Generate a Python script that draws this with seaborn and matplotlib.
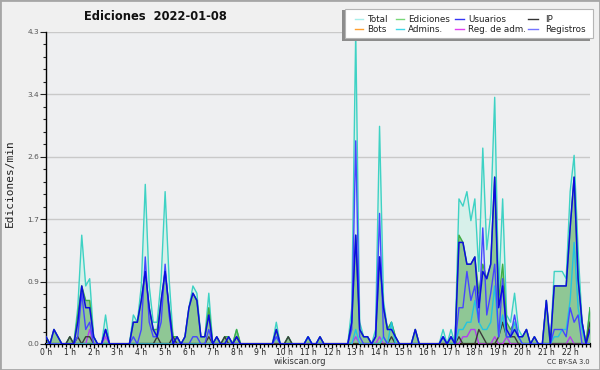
import matplotlib
matplotlib.use("Agg")
import numpy as np
import pandas as pd
import seaborn as sns
import matplotlib.pyplot as plt
from matplotlib.lines import Line2D
from matplotlib.patches import Rectangle
from matplotlib.ticker import FixedLocator, MultipleLocator

title = "Ediciones  2022-01-08"
ylabel = "Ediciones/min"
hour_labels = [f"{h} h" for h in range(23)]
y_ticks = [0.0, 0.86, 1.72, 2.58, 3.44, 4.3]
y_tick_labels = ["0.0", "0.9", "1.7", "2.6", "3.4", "4.3"]
series_names = ["Total", "Ediciones", "Usuarios", "IP",
                "Bots", "Admins.", "Reg. de adm.", "Registros"]

# 10-minute slots, one row per hour (values in edits/min)
slot_minutes = list(range(0, 1380, 10))

total = [
    0.1, 0, 0.2, 0.1, 0, 0,
    0.1, 0, 0.5, 1.5, 0.8, 0.9,
    0.1, 0, 0, 0.4, 0, 0,
    0, 0, 0, 0, 0.4, 0.3,
    0.8, 2.2, 0.8, 0.3, 0.3, 0.9,
    2.1, 0.9, 0.1, 0.1, 0, 0.1,
    0.5, 0.8, 0.7, 0.1, 0.1, 0.7,
    0, 0.1, 0, 0.1, 0.1, 0,
    0.2, 0, 0, 0, 0, 0,
    0, 0, 0, 0, 0.3, 0,
    0, 0.1, 0, 0, 0, 0,
    0.1, 0, 0, 0.1, 0, 0,
    0, 0, 0, 0, 0, 0.5,
    4.3, 0.3, 0.1, 0.1, 0, 0.2,
    3.0, 0.6, 0.2, 0.3, 0.1, 0,
    0, 0, 0, 0.2, 0, 0,
    0, 0, 0, 0, 0.2, 0,
    0.2, 0, 2.0, 1.9, 2.1, 1.7,
    2.0, 1.0, 2.7, 1.3, 1.8, 3.4,
    0.7, 2.0, 0.4, 0.3, 0.7, 0.2,
    0.1, 0.2, 0, 0.1, 0, 0,
    0.6, 0, 1.0, 1.0, 1.0, 0.9,
    2.1, 2.6, 1.3, 0.3, 0, 0.5,
]
ediciones = [
    0.1, 0, 0.2, 0.1, 0, 0,
    0.1, 0, 0.4, 0.8, 0.6, 0.6,
    0.1, 0, 0, 0.2, 0, 0,
    0, 0, 0, 0, 0.3, 0.3,
    0.6, 1.0, 0.5, 0.2, 0.2, 0.6,
    1.0, 0.5, 0.1, 0.1, 0, 0.1,
    0.5, 0.7, 0.6, 0.1, 0.1, 0.5,
    0, 0.1, 0, 0.1, 0.1, 0,
    0.2, 0, 0, 0, 0, 0,
    0, 0, 0, 0, 0.2, 0,
    0, 0.1, 0, 0, 0, 0,
    0.1, 0, 0, 0.1, 0, 0,
    0, 0, 0, 0, 0, 0.3,
    1.5, 0.2, 0.1, 0.1, 0, 0.1,
    1.2, 0.5, 0.2, 0.3, 0.1, 0,
    0, 0, 0, 0.2, 0, 0,
    0, 0, 0, 0, 0.1, 0,
    0.1, 0, 1.5, 1.4, 1.1, 1.1,
    1.2, 0.7, 1.1, 0.9, 1.1, 2.3,
    0.6, 1.1, 0.3, 0.2, 0.3, 0.1,
    0.1, 0.2, 0, 0.1, 0, 0,
    0.6, 0, 0.8, 0.8, 0.8, 0.8,
    1.6, 2.3, 0.9, 0.3, 0, 0.5,
]
usuarios = [
    0.1, 0, 0.2, 0.1, 0, 0,
    0, 0, 0.3, 0.8, 0.5, 0.5,
    0.1, 0, 0, 0.2, 0, 0,
    0, 0, 0, 0, 0.3, 0.3,
    0.6, 1.0, 0.5, 0.2, 0.1, 0.6,
    1.0, 0.5, 0, 0.1, 0, 0.1,
    0.5, 0.7, 0.6, 0.1, 0.1, 0.4,
    0, 0.1, 0, 0, 0.1, 0,
    0.1, 0, 0, 0, 0, 0,
    0, 0, 0, 0, 0.2, 0,
    0, 0, 0, 0, 0, 0,
    0.1, 0, 0, 0.1, 0, 0,
    0, 0, 0, 0, 0, 0.3,
    1.5, 0.2, 0.1, 0.1, 0, 0.1,
    1.2, 0.5, 0.2, 0.2, 0.1, 0,
    0, 0, 0, 0.2, 0, 0,
    0, 0, 0, 0, 0.1, 0,
    0.1, 0, 1.4, 1.4, 1.1, 1.1,
    1.2, 0.5, 1.0, 0.9, 1.1, 2.3,
    0.5, 0.8, 0.2, 0.1, 0.2, 0.1,
    0.1, 0.2, 0, 0.1, 0, 0,
    0.6, 0, 0.8, 0.8, 0.8, 0.8,
    1.6, 2.3, 0.9, 0.3, 0, 0.2,
]
ip = [
    0, 0, 0, 0, 0, 0,
    0.1, 0, 0.1, 0, 0.1, 0.1,
    0, 0, 0, 0, 0, 0,
    0, 0, 0, 0, 0, 0,
    0, 0, 0, 0, 0.1, 0,
    0, 0, 0.1, 0, 0, 0,
    0, 0, 0, 0, 0, 0.1,
    0, 0, 0, 0.1, 0, 0,
    0.1, 0, 0, 0, 0, 0,
    0, 0, 0, 0, 0, 0,
    0, 0.1, 0, 0, 0, 0,
    0, 0, 0, 0, 0, 0,
    0, 0, 0, 0, 0, 0,
    0, 0, 0, 0, 0, 0,
    0, 0, 0, 0.1, 0, 0,
    0, 0, 0, 0, 0, 0,
    0, 0, 0, 0, 0, 0,
    0, 0, 0.1, 0, 0, 0,
    0, 0.2, 0.1, 0, 0, 0,
    0.1, 0.3, 0.1, 0.1, 0.1, 0,
    0, 0, 0, 0, 0, 0,
    0, 0, 0, 0, 0, 0,
    0, 0, 0, 0, 0, 0.3,
]
bots = [0] * 138
admins = [
    0, 0, 0, 0, 0, 0,
    0, 0, 0, 0, 0, 0,
    0, 0, 0, 0, 0, 0,
    0, 0, 0, 0, 0, 0,
    0, 0, 0, 0, 0, 0,
    0, 0, 0, 0, 0, 0,
    0, 0, 0, 0, 0, 0,
    0, 0, 0, 0, 0, 0,
    0, 0, 0, 0, 0, 0,
    0, 0, 0, 0, 0.1, 0,
    0, 0, 0, 0, 0, 0,
    0.1, 0, 0, 0, 0, 0,
    0, 0, 0, 0, 0, 0,
    0.2, 0, 0, 0, 0, 0,
    0, 0.1, 0, 0.3, 0, 0,
    0, 0, 0, 0, 0, 0,
    0, 0, 0, 0, 0.1, 0,
    0, 0, 0.2, 0.2, 0.3, 0.3,
    0.6, 0.3, 0.2, 0.2, 0.3, 0.8,
    0.1, 0.4, 0.1, 0.1, 0.3, 0.1,
    0, 0, 0, 0, 0, 0,
    0, 0, 0.1, 0.1, 0.2, 0.2,
    0.6, 1.4, 0.5, 0.2, 0, 0,
]
reg_adm = [
    0, 0, 0, 0, 0, 0,
    0, 0, 0, 0, 0, 0.2,
    0, 0, 0, 0.1, 0, 0,
    0, 0, 0, 0, 0, 0,
    0, 0, 0, 0, 0, 0,
    0, 0, 0, 0, 0, 0,
    0, 0, 0, 0, 0, 0,
    0, 0, 0, 0, 0, 0,
    0, 0, 0, 0, 0, 0,
    0, 0, 0, 0, 0, 0,
    0, 0, 0, 0, 0, 0,
    0, 0, 0, 0, 0, 0,
    0, 0, 0, 0, 0, 0,
    0.1, 0, 0, 0, 0, 0,
    0.1, 0, 0, 0, 0, 0,
    0, 0, 0, 0, 0, 0,
    0, 0, 0, 0, 0, 0,
    0, 0, 0, 0.1, 0.1, 0.2,
    0.2, 0, 0, 0, 0, 0.1,
    0, 0, 0.1, 0, 0, 0,
    0, 0, 0, 0, 0, 0,
    0, 0, 0, 0, 0, 0,
    0.1, 0, 0, 0, 0, 0,
]
registros = [
    0, 0, 0, 0, 0, 0,
    0, 0, 0.1, 0.7, 0.2, 0.3,
    0, 0, 0, 0.2, 0, 0,
    0, 0, 0, 0, 0.1, 0,
    0.2, 1.2, 0.3, 0.1, 0.1, 0.3,
    1.1, 0.4, 0, 0, 0, 0,
    0, 0.1, 0.1, 0, 0, 0.2,
    0, 0, 0, 0, 0, 0,
    0, 0, 0, 0, 0, 0,
    0, 0, 0, 0, 0.1, 0,
    0, 0, 0, 0, 0, 0,
    0, 0, 0, 0, 0, 0,
    0, 0, 0, 0, 0, 0.2,
    2.8, 0.1, 0, 0, 0, 0.1,
    1.8, 0.1, 0, 0, 0, 0,
    0, 0, 0, 0, 0, 0,
    0, 0, 0, 0, 0.1, 0,
    0.1, 0, 0.5, 0.5, 1.0, 0.6,
    0.8, 0.3, 1.6, 0.4, 0.7, 1.1,
    0.1, 0.9, 0.1, 0.1, 0.4, 0.1,
    0, 0, 0, 0, 0, 0,
    0, 0, 0.2, 0.2, 0.2, 0.1,
    0.5, 0.3, 0.4, 0, 0, 0,
]

colors = {
    "Total": "#3ed2c4", "Ediciones": "#3fae45", "Usuarios": "#0c0ce0",
    "IP": "#3a3a3a", "Bots": "#ff9a1e", "Admins.": "#22c4e0",
    "Reg. de adm.": "#b43cf0", "Registros": "#4646ff",
}
legend_colors = {
    "Total": "#a8eeea", "Ediciones": "#78d878", "Usuarios": "#3535f5",
    "IP": "#333333", "Bots": "#ffa030", "Admins.": "#40d8e8",
    "Reg. de adm.": "#e040f0", "Registros": "#7474ff",
}

df = pd.DataFrame({
    "hour": [m / 60 for m in slot_minutes],
    "Total": total, "Ediciones": ediciones, "Usuarios": usuarios,
    "IP": ip, "Bots": bots, "Admins.": admins,
    "Reg. de adm.": reg_adm, "Registros": registros,
})

W, H = 600, 370
fig = plt.figure(figsize=(6, 3.7), dpi=100, facecolor="#f0f0f0")
ax = fig.add_axes([46 / W, 26 / H, 544 / W, 312 / H])
ax.set_facecolor("#eeeff1")

ax.fill_between(df["hour"], df["Total"], color="#d7f0ea", lw=0, zorder=1)
ax.fill_between(df["hour"], df["Ediciones"], color="#8fc795", lw=0, zorder=2)

draw_order = ["Total", "Ediciones", "Bots", "Reg. de adm.", "IP",
              "Admins.", "Registros", "Usuarios"]
widths = {"Total": 1.0, "Ediciones": 1.0, "Usuarios": 1.1, "IP": 1.0,
          "Bots": 1.0, "Admins.": 1.0, "Reg. de adm.": 1.0, "Registros": 1.0}
for k, name in enumerate(draw_order):
    sns.lineplot(data=df, x="hour", y=name, color=colors[name],
                 lw=widths[name], ax=ax, zorder=3 + k, legend=False)

ax.set_xlim(0, 137 / 6)
ax.set_ylim(0, 4.3)
ax.set_xlabel("")
ax.set_ylabel("")

ax.xaxis.set_major_locator(FixedLocator(list(range(23))))
ax.set_xticklabels(hour_labels)
ax.xaxis.set_minor_locator(MultipleLocator(1 / 6))
ax.yaxis.set_major_locator(FixedLocator(y_ticks))
ax.set_yticklabels(y_tick_labels)
ax.yaxis.set_minor_locator(MultipleLocator(0.172))

ax.tick_params(axis="x", which="major", length=2.8, width=0.9, color="black",
               labelsize=5.5, labelcolor="#222222", pad=0.2)
ax.tick_params(axis="x", which="minor", length=2.4, width=0.9, color="black")
ax.tick_params(axis="y", which="major", length=4.3, width=0.8, color="#222222",
               labelsize=5.3, labelcolor="#555555", pad=0.8)
ax.tick_params(axis="y", which="minor", length=2.2, width=0.8, color="#222222")

ax.grid(axis="y", which="major", color="#c9c9c9", lw=1)
ax.set_axisbelow(True)
for s in ["top", "right"]:
    ax.spines[s].set_visible(False)
ax.spines["left"].set_color("black")
ax.spines["left"].set_linewidth(1.0)
ax.spines["bottom"].set_color("black")
ax.spines["bottom"].set_linewidth(1.6)

fig.text(155 / W, 1 - 17 / H, title, ha="center", va="center",
         fontsize=8.3, fontweight="bold", color="#111111")
fig.text(10 / W, 1 - 183 / H, ylabel, rotation=90, ha="center", va="center",
         fontsize=8, family="DejaVu Sans Mono", color="#222222")
fig.text(300 / W, 1 - 361 / H, "wikiscan.org", ha="center", va="center",
         fontsize=6, color="#333333")
fig.text(590 / W, 1 - 362 / H, "CC BY-SA 3.0", ha="right", va="center",
         fontsize=4.8, color="#333333")

# legend box with shadow
fig.add_artist(Rectangle((342 / W, 1 - 41 / H), 248 / W, 31 / H,
                         transform=fig.transFigure, facecolor="#8c8c8c",
                         edgecolor="none", zorder=10))
fig.add_artist(Rectangle((345 / W, 1 - 38 / H), 248 / W, 29 / H,
                         transform=fig.transFigure, facecolor="white",
                         edgecolor="#b5b5b5", lw=0.8, zorder=11))
col_line = [(355, 363), (396, 404), (455, 464), (528, 538)]
col_text = [367, 408, 468, 545]
rows = [19, 29]
for idx, name in enumerate(series_names):
    r, c = divmod(idx, 4)
    y = 1 - rows[r] / H
    fig.add_artist(Line2D([col_line[c][0] / W, col_line[c][1] / W], [y, y],
                          transform=fig.transFigure, color=legend_colors[name],
                          lw=1.0, zorder=12))
    fig.text(col_text[c] / W, y, name, ha="left", va="center", fontsize=6.3,
             color="#222222", zorder=12)

fig.add_artist(Rectangle((0, 0), 1, 1, transform=fig.transFigure, fill=False,
                         edgecolor="#a6a6a6", lw=2, zorder=20))

fig.savefig("out.png", dpi=100, facecolor=fig.get_facecolor())
